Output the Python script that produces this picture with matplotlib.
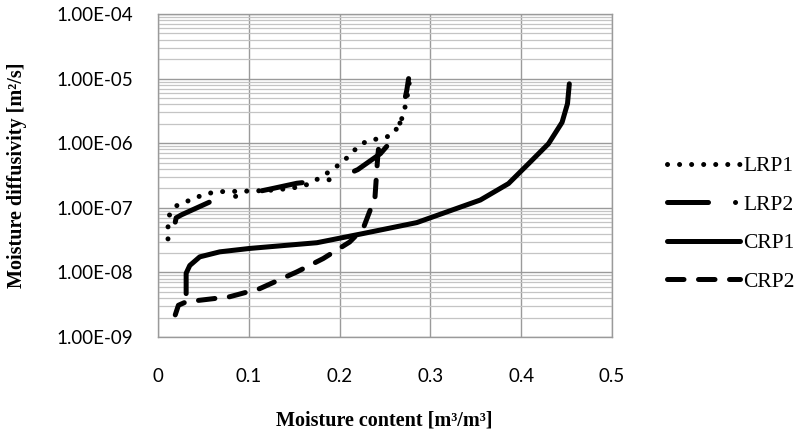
import matplotlib
matplotlib.use('Agg')
import matplotlib.pyplot as plt
from matplotlib.ticker import FixedLocator, LogLocator, NullFormatter
import numpy as np

# moisture content [m3/m3] and diffusivity [m2/s]
lrp1_x = [0.011, 0.011, 0.012, 0.020, 0.032, 0.044, 0.056, 0.069, 0.090, 0.120,
          0.147, 0.165, 0.180, 0.194, 0.204, 0.213, 0.223, 0.234, 0.247, 0.259,
          0.266, 0.271, 0.273, 0.276, 0.277]
lrp1_d = [3.3e-8, 5.0e-8, 7.5e-8, 1.07e-7, 1.26e-7, 1.48e-7, 1.68e-7, 1.78e-7, 1.80e-7, 1.85e-7,
          2.0e-7, 2.3e-7, 3.0e-7, 4.1e-7, 5.2e-7, 7.0e-7, 9.6e-7, 1.13e-6, 1.18e-6, 1.37e-6,
          2.0e-6, 2.9e-6, 4.4e-6, 6.6e-6, 1.0e-5]

lrp2_x = [0.019, 0.020, 0.026, 0.057, 0.083, 0.127, 0.153, 0.197, 0.220, 0.245,
          0.256, 0.266, 0.270, 0.274, 0.276]
lrp2_d = [6.0e-8, 7.0e-8, 7.8e-8, 1.23e-7, 1.48e-7, 2.0e-7, 2.4e-7, 2.8e-7, 3.9e-7, 6.9e-7,
          1.04e-6, 1.9e-6, 3.6e-6, 6.6e-6, 1.0e-5]

crp1_x = [0.031, 0.031, 0.035, 0.046, 0.068, 0.101, 0.175, 0.226, 0.285, 0.355,
          0.386, 0.408, 0.430, 0.445, 0.451, 0.453]
crp1_d = [4.7e-9, 9.7e-9, 1.28e-8, 1.74e-8, 2.08e-8, 2.35e-8, 2.88e-8, 4.0e-8, 5.9e-8, 1.32e-7,
          2.37e-7, 4.8e-7, 9.8e-7, 2.1e-6, 4.1e-6, 8.3e-6]

crp2_x = [0.019, 0.0225, 0.031, 0.079, 0.112, 0.153, 0.182, 0.211, 0.226, 0.233,
          0.238, 0.239, 0.242, 0.243]
crp2_d = [2.2e-9, 3.1e-9, 3.5e-9, 4.2e-9, 5.6e-9, 1.02e-8, 1.64e-8, 2.95e-8, 4.8e-8, 8.7e-8,
          1.32e-7, 1.48e-7, 6.2e-7, 8.5e-7]

x_ticks = [0, 0.1, 0.2, 0.3, 0.4, 0.5]
x_ticklabels = ['0', '0.1', '0.2', '0.3', '0.4', '0.5']
y_ticks = [1e-9, 1e-8, 1e-7, 1e-6, 1e-5, 1e-4]
y_ticklabels = ['1.00E-09', '1.00E-08', '1.00E-07', '1.00E-06', '1.00E-05', '1.00E-04']

fig = plt.figure(figsize=(7.98, 4.32), dpi=100)
ax = fig.add_axes([158/798, 95/432, 454/798, 323/432])

lw = 3.6
ax.plot(lrp1_x, lrp1_d, color='black', lw=lw, dashes=(0.01, 2.4),
        dash_capstyle='round', label='LRP1', zorder=3)
ax.plot(lrp2_x, lrp2_d, color='black', lw=lw, dashes=(8.2, 5.4, 0.01, 5.4),
        dash_capstyle='round', label='LRP2', zorder=3)
ax.plot(crp1_x, crp1_d, color='black', lw=lw, solid_capstyle='round',
        solid_joinstyle='round', label='CRP1', zorder=3)
ax.plot(crp2_x, crp2_d, color='black', lw=lw, dashes=(3.3, 2.9),
        dash_capstyle='round', label='CRP2', zorder=3)

ax.set_yscale('log')
ax.set_xlim(0, 0.5)
ax.set_ylim(1e-9, 1e-4)
ax.xaxis.set_major_locator(FixedLocator(x_ticks))
ax.set_xticklabels(x_ticklabels)
ax.yaxis.set_major_locator(FixedLocator(y_ticks))
ax.set_yticklabels(y_ticklabels)
ax.yaxis.set_minor_locator(LogLocator(base=10, subs=np.arange(2, 10)))
ax.yaxis.set_minor_formatter(NullFormatter())

ax.grid(True, which='major', axis='both', color='#9a9a9a', lw=1.0)
ax.grid(True, which='minor', axis='y', color='#c4c4c4', lw=0.9)
ax.set_axisbelow(True)
for s in ax.spines.values():
    s.set_color('#9a9a9a')
    s.set_linewidth(1.0)

ax.tick_params(which='both', length=0)
ax.tick_params(axis='y', pad=18)
ax.tick_params(axis='x', pad=22)
for t in ax.get_xticklabels() + ax.get_yticklabels():
    t.set_fontfamily('Lato')
    t.set_fontsize(13.5)
    t.set_color('black')

fig.text(384/798, 1 - 421/432, 'Moisture content [m³/m³]', ha='center', va='center',
         family='Liberation Serif', fontweight='bold', fontsize=14.5)
fig.text(17/798, 1 - 175/432, 'Moisture diffusivity [m²/s]', ha='center', va='center',
         rotation=90, family='Liberation Serif', fontweight='bold', fontsize=14.5)

leg = fig.legend(loc='center left', bbox_to_anchor=(667/798, 1 - 224/432),
                 frameon=False, borderpad=0, borderaxespad=0,
                 handlelength=3.4, handletextpad=0.15, labelspacing=0.85,
                 prop={'family': 'Liberation Serif', 'size': 15.5})

fig.savefig('out.png', dpi=100)
